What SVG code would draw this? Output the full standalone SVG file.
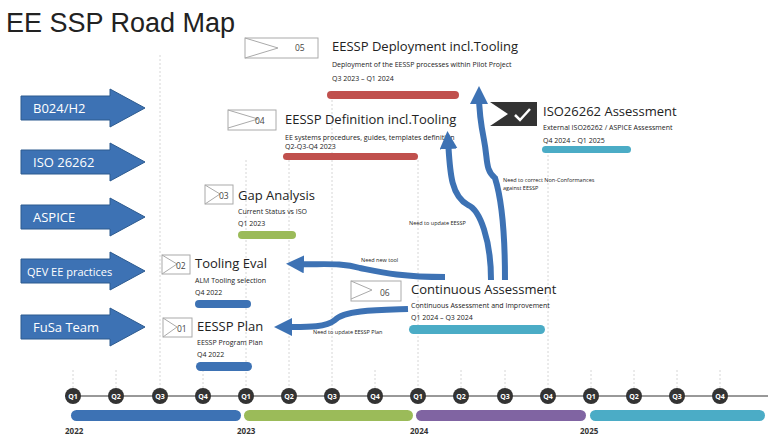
<svg xmlns="http://www.w3.org/2000/svg" width="768" height="435" viewBox="0 0 768 435">
<style>
text{font-family:"Open Sans","Liberation Sans",sans-serif;fill:#222}
.t{font-size:13px}.s{font-size:7px}.n{font-size:8.5px;fill:#444}
.grid{stroke:#ccc;stroke-width:0.8;stroke-dasharray:2 2}
.chev{fill:#fff;stroke:#aaa;stroke-width:1}
.blk{fill:#3d72b4;stroke:#2c5a8f;stroke-width:1}
.blk-t{font-size:13px;fill:#fff}
.con{fill:none;stroke:#3d72b4;stroke-width:6}
.lab{font-size:5.5px;fill:#222}
.q{fill:#333}.qt{font-size:7px;fill:#fff;font-weight:bold;text-anchor:middle}
.y{font-size:8px;font-weight:bold;fill:#333}
</style>
<defs><marker id="ah" viewBox="0 0 10 10" refX="5" refY="5" markerWidth="3" markerHeight="3" orient="auto"><path d="M0,0L10,5L0,10z" fill="#3d72b4"/></marker></defs>
<rect width="768" height="435" fill="#fff"/>
<text x="6" y="32" style="font-size:27px;font-family:'Liberation Sans',sans-serif">EE SSP Road Map</text>
<g>
<line class="grid" x1="160" y1="55" x2="160" y2="388"/><line class="grid" x1="246" y1="160" x2="246" y2="388"/>
<line class="grid" x1="289" y1="160" x2="289" y2="388"/><line class="grid" x1="332" y1="100" x2="332" y2="388"/>
<line class="grid" x1="418" y1="160" x2="418" y2="388"/><line class="grid" x1="548" y1="155" x2="548" y2="388"/>
<line class="grid" x1="203" y1="370" x2="203" y2="388"/><line class="grid" x1="116" y1="370" x2="116" y2="388"/>
<line class="grid" x1="73" y1="370" x2="73" y2="388"/><line class="grid" x1="375" y1="370" x2="375" y2="388"/>
<line class="grid" x1="461" y1="370" x2="461" y2="388"/><line class="grid" x1="505" y1="370" x2="505" y2="388"/>
<line class="grid" x1="591" y1="370" x2="591" y2="388"/><line class="grid" x1="634" y1="370" x2="634" y2="388"/>
<line class="grid" x1="677" y1="370" x2="677" y2="388"/><line class="grid" x1="720" y1="370" x2="720" y2="388"/>
</g>
<g id="inputs">
<g id="in1"><path class="blk" d="M21,96H110V89L145,108L110,127V120H21z"/><text class="blk-t" x="33" y="113">B024/H2</text></g>
<g id="in2"><path class="blk" d="M21,150H110V143L145,162L110,181V174H21z"/><text class="blk-t" x="33" y="167">ISO 26262</text></g>
<g id="in3"><path class="blk" d="M21,205H110V198L145,217L110,236V229H21z"/><text class="blk-t" x="33" y="222">ASPICE</text></g>
<g id="in4"><path class="blk" d="M21,259H110V252L145,271L110,290V283H21z"/><text class="blk-t" x="27" y="276" style="font-size:11px">QEV EE practices</text></g>
<g id="in5"><path class="blk" d="M21,315H110V308L145,327L110,346V339H21z"/><text class="blk-t" x="33" y="332">FuSa Team</text></g>
</g>
<g id="n05"><rect class="chev" x="245" y="38" width="73" height="20"/><path d="M245,38L278,48L245,58" fill="none" stroke="#aaa"/><text class="n" x="295" y="51">05</text>
<text class="t" x="332" y="51">EESSP Deployment incl.Tooling</text><text class="s" x="332" y="67">Deployment of the EESSP processes within Pilot Project</text><text class="s" x="332" y="81">Q3 2023 – Q1 2024</text>
<rect x="327" y="91" width="132" height="8" rx="4" fill="#c0504d"/></g>
<g id="n04"><rect class="chev" x="228" y="110" width="48" height="20"/><path d="M228,110L258,119L228,128" fill="none" stroke="#aaa"/><text class="n" x="255" y="124">04</text>
<text class="t" x="285" y="124">EESSP Definition incl.Tooling</text><text class="s" x="285" y="140">EE systems procedures, guides, templates definition</text><text class="s" x="285" y="149">Q2-Q3-Q4 2023</text>
<rect x="283" y="153" width="135" height="7" rx="3.5" fill="#c0504d"/></g>
<g id="nISO"><path d="M490,102H537V126H490L508,114z" fill="#333"/><path d="M515,115L520,120L530,109" fill="none" stroke="#fff" stroke-width="2.5"/>
<text class="t" x="543" y="116">ISO26262 Assessment</text><text class="s" x="543" y="130">External ISO26262 / ASPICE Assessment</text><text class="s" x="543" y="143">Q4 2024 – Q1 2025</text>
<rect x="542" y="146" width="89" height="7" rx="3.5" fill="#4bacc6"/></g>
<g id="n03"><rect class="chev" x="205" y="185" width="28" height="19"/><path d="M205,185L220,194L205,204" fill="none" stroke="#aaa"/><text class="n" x="219" y="199">03</text>
<text class="t" x="238" y="200">Gap Analysis</text><text class="s" x="238" y="214">Current Status vs ISO</text><text class="s" x="238" y="226">Q1 2023</text>
<rect x="238" y="231" width="58" height="8" rx="4" fill="#9bbb59"/></g>
<g id="n02"><rect class="chev" x="162" y="255" width="28" height="19"/><path d="M162,255L177,264L162,274" fill="none" stroke="#aaa"/><text class="n" x="176" y="269">02</text>
<text class="t" x="195" y="268">Tooling Eval</text><text class="s" x="195" y="283">ALM Tooling selection</text><text class="s" x="195" y="295">Q4 2022</text>
<rect x="195" y="300" width="56" height="8" rx="4" fill="#3d72b4"/></g>
<g id="n01"><rect class="chev" x="163" y="318" width="29" height="19"/><path d="M163,318L177,327L163,337" fill="none" stroke="#aaa"/><text class="n" x="177" y="332">01</text>
<text class="t" x="197" y="331">EESSP Plan</text><text class="s" x="197" y="345">EESSP Program Plan</text><text class="s" x="197" y="357">Q4 2022</text>
<rect x="196" y="362" width="56" height="9" rx="4.5" fill="#3d72b4"/></g>
<g id="n06"><rect class="chev" x="351" y="281" width="50" height="20"/><path d="M351,281L372,290L351,299" fill="none" stroke="#aaa"/><text class="n" x="380" y="296">06</text>
<text class="t" x="411" y="294">Continuous Assessment</text><text class="s" x="411" y="308">Continuous Assessment and Improvement</text><text class="s" x="411" y="320">Q1 2024 – Q3 2024</text>
<rect x="409" y="325" width="136" height="9" rx="4.5" fill="#4bacc6"/></g>
<g id="connectors">
<path class="con" marker-end="url(#ah)" d="M445,277C400,277 380,272 360,268C340,262 320,265 295,264"/>
<path class="con" marker-end="url(#ah)" d="M408,309C380,310 345,310 335,320C325,328 305,327 283,327"/>
<path class="con" marker-end="url(#ah)" d="M491,280C491,240 480,210 468,205C450,195 450,170 448,140"/>
<path class="con" marker-end="url(#ah)" d="M505,280C505,240 502,200 495,178C485,170 488,160 484,140C480,120 479,108 479,95"/>
<text class="lab" x="361" y="262">Need new tool</text>
<text class="lab" x="313" y="334">Need to update EESSP Plan</text>
<text class="lab" x="409" y="225">Need to update EESSP</text>
<text class="lab" x="503" y="182">Need to correct Non-Conformances</text>
<text class="lab" x="503" y="190">against EESSP</text>
</g>
<g id="timeline">
<line x1="65" y1="396" x2="768" y2="396" stroke="#333" stroke-width="1"/>
<g class="q">
<circle cx="73" cy="396" r="8"/><circle cx="116" cy="396" r="8"/><circle cx="160" cy="396" r="8"/><circle cx="203" cy="396" r="8"/>
<circle cx="246" cy="396" r="8"/><circle cx="289" cy="396" r="8"/><circle cx="332" cy="396" r="8"/><circle cx="375" cy="396" r="8"/>
<circle cx="418" cy="396" r="8"/><circle cx="461" cy="396" r="8"/><circle cx="505" cy="396" r="8"/><circle cx="548" cy="396" r="8"/>
<circle cx="591" cy="396" r="8"/><circle cx="634" cy="396" r="8"/><circle cx="677" cy="396" r="8"/><circle cx="720" cy="396" r="8"/></g>
<text class="qt" x="73" y="399">Q1</text><text class="qt" x="116" y="399">Q2</text><text class="qt" x="160" y="399">Q3</text><text class="qt" x="203" y="399">Q4</text>
<text class="qt" x="246" y="399">Q1</text><text class="qt" x="289" y="399">Q2</text><text class="qt" x="332" y="399">Q3</text><text class="qt" x="375" y="399">Q4</text>
<text class="qt" x="418" y="399">Q1</text><text class="qt" x="461" y="399">Q2</text><text class="qt" x="505" y="399">Q3</text><text class="qt" x="548" y="399">Q4</text>
<text class="qt" x="591" y="399">Q1</text><text class="qt" x="634" y="399">Q2</text><text class="qt" x="677" y="399">Q3</text><text class="qt" x="720" y="399">Q4</text>
<rect x="71" y="410" width="170" height="11" rx="5.5" fill="#3d72b4"/><rect x="244" y="410" width="169" height="11" rx="5.5" fill="#9bbb59"/>
<rect x="416" y="410" width="170" height="11" rx="5.5" fill="#8064a2"/><rect x="590" y="410" width="175" height="11" rx="5.5" fill="#4bacc6"/>
<text class="y" x="65" y="434">2022</text><text class="y" x="237" y="434">2023</text><text class="y" x="410" y="434">2024</text><text class="y" x="580" y="434">2025</text>
</g>
</svg>
